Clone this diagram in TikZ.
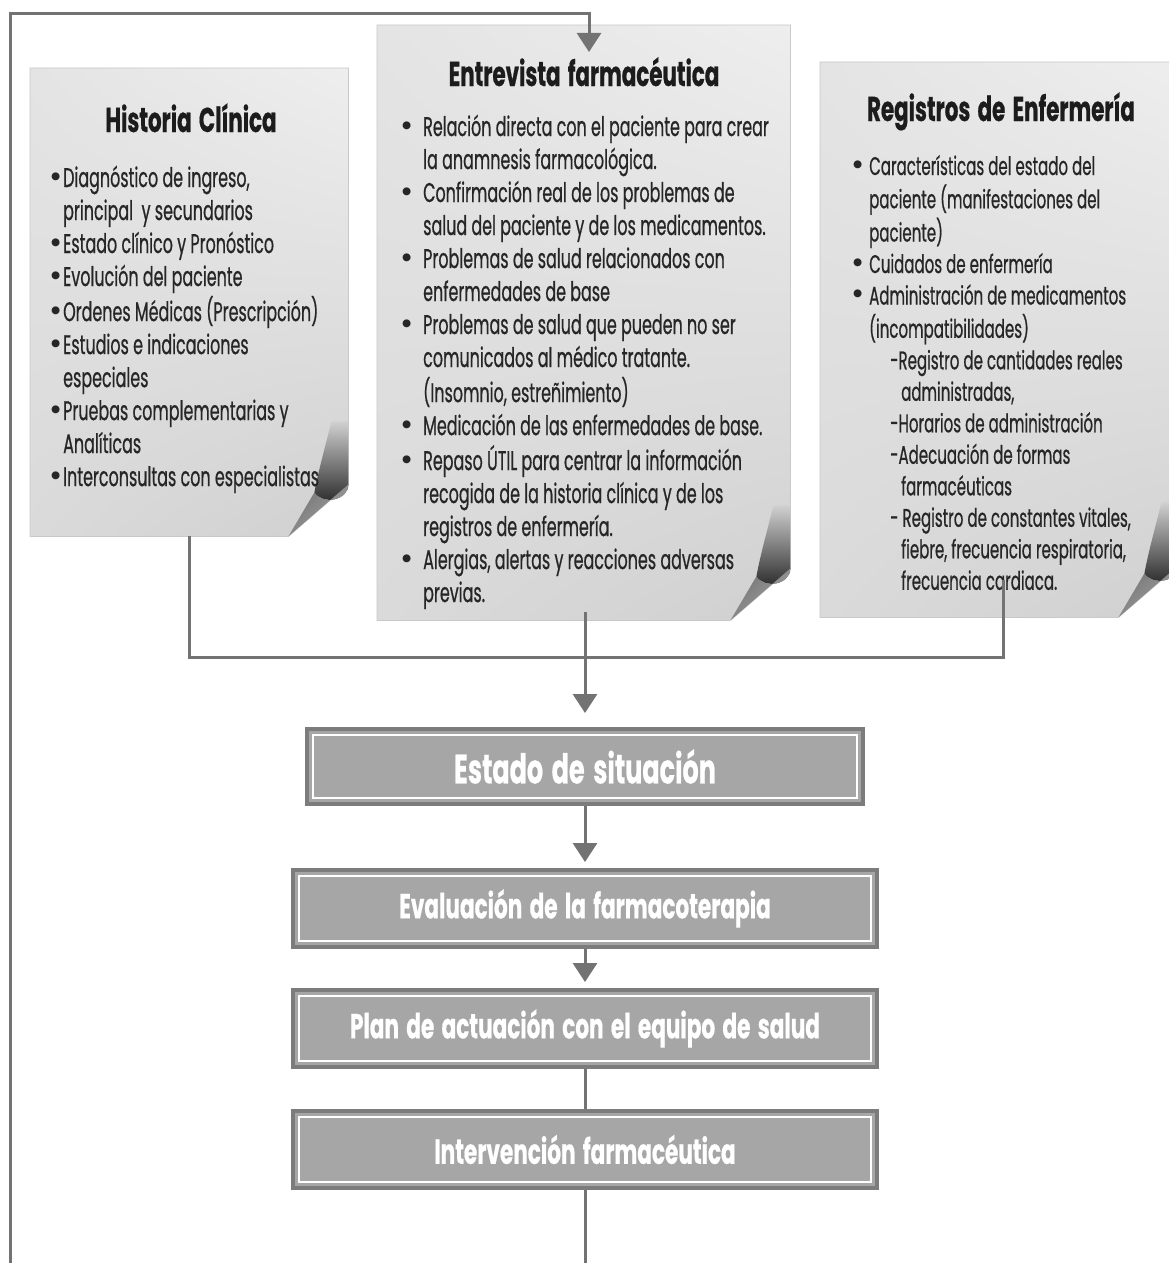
\documentclass[tikz,border=0pt]{standalone}
\usepackage{fontspec}
\setmainfont[FakeStretch=0.59, FakeBold=0.6]{Poppins}
\newfontfamily\headfont[FakeStretch=0.62, WordSpace=1.6, FakeBold=0.5]{Poppins}
\newfontfamily\dotfont{Poppins}
\usetikzlibrary{arrows.meta,shadings}

\definecolor{linegray}{HTML}{737373}
\definecolor{boxfill}{HTML}{A6A6A6}
\definecolor{boxedge}{HTML}{7C7C7C}
\definecolor{sheetA}{HTML}{E4E4E4}
\definecolor{sheetB}{HTML}{EEEEEE}
\definecolor{sheetC}{HTML}{DADADA}
\definecolor{sheetD}{HTML}{D0D0D0}
\definecolor{sheetedge}{HTML}{C9C9C9}
\definecolor{titleink}{HTML}{1C1C1C}
\definecolor{bodyink}{HTML}{262626}

\newcommand\bul{{\dotfont\fontsize{32}{33}\selectfont\textbullet}}

\tikzset{
  conn/.style={draw=linegray, line width=3pt},
  arr/.style={conn, -{Triangle[width=24pt,length=19pt]}},
  sheetarea/.style={rectangle, inner sep=0pt, draw=none, anchor=north west},
  sheettitle/.style={font=\headfont\fontsize{34.5}{37}\selectfont\bfseries, text=titleink, inner sep=0pt, anchor=base},
  sheettext/.style={text=bodyink, inner sep=0pt, anchor=base west},
  stepbox/.style={rectangle, inner sep=0pt, minimum width=584pt, minimum height=77pt,
    fill=boxfill, draw=boxedge, line width=4pt, text=white,
    font=\headfont\fontsize{34.8}{38}\selectfont\bfseries,
    path picture={\draw[white, line width=2pt]
      ([shift={(6pt,6pt)}]path picture bounding box.south west) rectangle
      ([shift={(-6pt,-6pt)}]path picture bounding box.north east);}}
}

% sheet of paper with a curled lower right corner, drawn around a named area
\newcommand\drawsheet[1]{%
  \shade[upper left=sheetA, upper right=sheetB, lower left=sheetC, lower right=sheetD,
         draw=sheetedge, line width=0.8pt]
    (#1.north west) -- (#1.north east) -- ([yshift=52pt]#1.south east)
    -- ([xshift=-60pt]#1.south east) -- (#1.south west) -- cycle;
  \begin{scope}[shift={(#1.south east)}]
    % shadowed inside of the roll
    \shade[top color=sheetD, bottom color=black!85]
      (-17pt,115pt) -- (0pt,115pt) -- (0pt,52pt)
      .. controls (0pt,36pt) and (-26pt,31pt) .. (-34pt,44pt)
      .. controls (-30pt,66pt) and (-23pt,90pt) .. (-17pt,115pt) -- cycle;
    % the curled-up flap
    \shade[top color=black!55, middle color=white, bottom color=black!35, shading angle=45]
      (-60pt,0pt) -- (0pt,52pt)
      .. controls (0pt,36pt) and (-26pt,31pt) .. (-34pt,44pt) -- cycle;
  \end{scope}}

\begin{document}
\begin{tikzpicture}[x=1pt,y=-1pt, line join=miter]
\useasboundingbox (0,0) rectangle (1169,1263);
\clip (0,0) rectangle (1169,1263);
\fill[white] (0,0) rectangle (1169,1263);

% the three source sheets
\node[sheetarea, minimum width=318pt, minimum height=468pt] (hc) at (30,68) {};
\node[sheetarea, minimum width=413pt, minimum height=595pt] (ef) at (377,25) {};
\node[sheetarea, minimum width=358pt, minimum height=555pt] (re) at (820,62) {};
\drawsheet{hc}
\drawsheet{ef}
\drawsheet{re}

% titles
\node[sheettitle] (hcT) at (191,132) {Historia Clínica};
\node[sheettitle] (efT) at (584,86) {Entrevista farmacéutica};
\node[sheettitle] (reT) at (1001,121) {Registros de Enfermería};

% contents
\node[sheettext, font=\fontsize{27}{33}\selectfont] (hcX) at (49,187) {%
\begin{tabular}[t]{@{}p{14pt}@{}l@{}}
\bul & Diagnóstico de ingreso,\\
 & principal\ \ y secundarios\\
\bul & Estado clínico y Pronóstico\\
\bul & Evolución del paciente\\
\bul & Ordenes Médicas (Prescripción)\\
\bul & Estudios e indicaciones\\
 & especiales\\
\bul & Pruebas complementarias y\\
 & Analíticas\\
\bul & Interconsultas con especialistas
\end{tabular}};

\node[sheettext, font=\fontsize{27}{33}\selectfont] (efX) at (400,136) {%
\begin{tabular}[t]{@{}p{23pt}@{}l@{}}
\bul & Relación directa con el paciente para crear\\
 & la anamnesis farmacológica.\\
\bul & Confirmación real de los problemas de\\
 & salud del paciente y de los medicamentos.\\
\bul & Problemas de salud relacionados con\\
 & enfermedades de base\\
\bul & Problemas de salud que pueden no ser\\
 & comunicados al médico tratante.\\
 & (Insomnio, estreñimiento)\\
\bul & Medicación de las enfermedades de base.\\
\bul & Repaso ÚTIL para centrar la información\\
 & recogida de la historia clínica y de los\\
 & registros de enfermería.\\
\bul & Alergias, alertas y reacciones adversas\\
 & previas.
\end{tabular}};

\node[sheettext, font=\fontsize{25.5}{31.5}\selectfont] (reX) at (851,175) {%
\begin{tabular}[t]{@{}p{18pt}@{}l@{}}
\bul & Características del estado del\\
 & paciente (manifestaciones del\\
 & paciente)\\
\bul & Cuidados de enfermería\\
\bul & Administración de medicamentos\\
 & (incompatibilidades)\\
 & \hspace*{21pt}-Registro de cantidades reales\\
 & \hspace*{32pt}administradas,\\
 & \hspace*{21pt}-Horarios de administración\\
 & \hspace*{21pt}-Adecuación de formas\\
 & \hspace*{32pt}farmacéuticas\\
 & \hspace*{21pt}- Registro de constantes vitales,\\
 & \hspace*{32pt}fiebre, frecuencia respiratoria,\\
 & \hspace*{32pt}frecuencia cardiaca.
\end{tabular}};

% process steps
\node[stepbox, minimum width=556pt, minimum height=75pt, font=\headfont\fontsize{41}{43}\selectfont\bfseries] (es) at (585,766.5) {Estado de situación};
\node[stepbox] (ev) at (585,908.5) {Evaluación de la farmacoterapia};
\node[stepbox] (pl) at (585,1028.5) {Plan de actuación con el equipo de salud};
\node[stepbox] (iv) at (585,1149.5) {Intervención farmacéutica};

% connectors
\coordinate (merge) at (588,657);
\coordinate (reUp) at ([xshift=4pt,yshift=37pt]re.south);
\coordinate (loopBottom) at (585,1280);
\coordinate (loopCorner) at (10,14);
\coordinate (efIn) at (589,52);

\draw[conn] (hc.south) |- (reUp |- merge) -- (reUp);
\draw[arr] ([yshift=8pt]ef.south -| es.north) -- ([yshift=14pt]es.north);
\draw[arr] (es.south) -- ([yshift=6pt]ev.north);
\draw[arr] (ev.south) -- ([yshift=6pt]pl.north);
\draw[conn] (pl.south) -- (iv.north);
\draw[arr] (iv.south) -- (loopBottom) -| (loopCorner) -| (efIn);
\end{tikzpicture}
\end{document}
